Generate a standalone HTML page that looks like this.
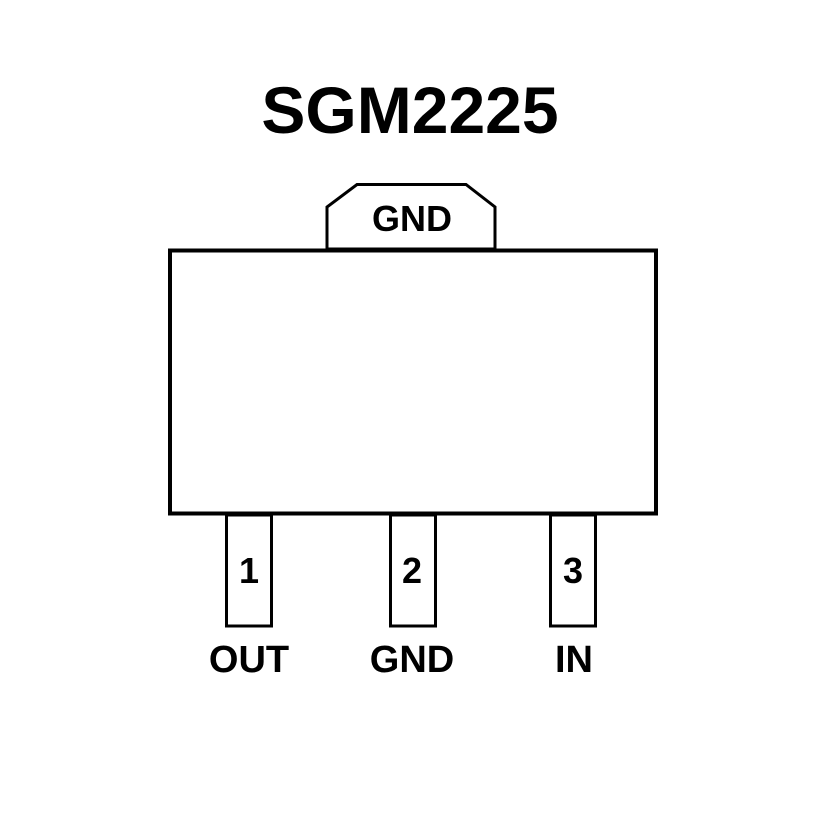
<!DOCTYPE html>
<html><head><meta charset="utf-8"><style>
html,body{margin:0;padding:0;background:#fff;}
svg{display:block;}
text{font-family:"Liberation Sans",sans-serif;font-weight:bold;fill:#000;text-anchor:middle;}
</style></head><body>
<svg width="827" height="827" viewBox="0 0 827 827" xmlns="http://www.w3.org/2000/svg">
<rect width="827" height="827" fill="#fff"/>
<text x="410" y="133" font-size="66">SGM2225</text>
<polygon points="327,249 327,207 357,184.5 466,184.5 495,207 495,249" fill="#fff" stroke="#000" stroke-width="3"/>
<text x="412" y="231" font-size="36">GND</text>
<rect x="170" y="250.5" width="486" height="263" fill="#fff" stroke="#000" stroke-width="4"/>
<rect x="226.5" y="515" width="45" height="111" fill="#fff" stroke="#000" stroke-width="3"/>
<rect x="390.5" y="515" width="45" height="111" fill="#fff" stroke="#000" stroke-width="3"/>
<rect x="550.5" y="515" width="45" height="111" fill="#fff" stroke="#000" stroke-width="3"/>
<text x="249" y="583" font-size="36">1</text>
<text x="412" y="583" font-size="36">2</text>
<text x="573" y="583" font-size="36">3</text>
<text x="249" y="672" font-size="38">OUT</text>
<text x="412" y="672" font-size="38">GND</text>
<text x="574" y="672" font-size="38">IN</text>
</svg>
</body></html>
